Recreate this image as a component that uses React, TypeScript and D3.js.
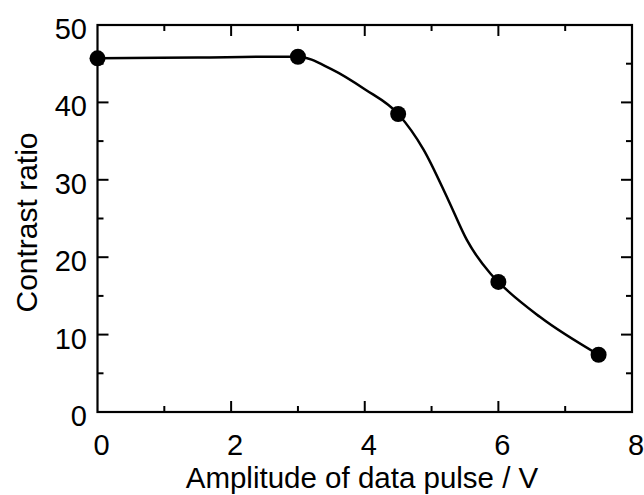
import React from "react";
import * as d3 from "d3";

const pointX = [0, 3, 4.5, 6, 7.5];
const pointY = [45.7, 45.9, 38.5, 16.8, 7.4];

// hand-drawn guide curve
const curveX = [0, 1.5, 2.7, 3, 3.5, 4.0, 4.5, 4.88, 5.25, 5.53, 5.88, 6, 6.62, 7.5];
const curveY = [45.7, 45.8, 45.9, 45.9, 44.3, 41.7, 38.5, 33.9, 27.4, 22.2, 17.9, 16.8, 12.3, 7.4];

const xTickLabels = [0, 2, 4, 6, 8];
const yTickLabels = [0, 10, 20, 30, 40, 50];
const xMinorTicks = [1, 3, 5, 7];
const yMinorTicks = [5, 15, 25, 35, 45];

const W = 644, H = 495;
const FONT = "'Liberation Sans', Arial, Helvetica, sans-serif";

export default function App() {
  const x = d3.scaleLinear().domain([0, 8]).range([97.5, 632]);
  const y = d3.scaleLinear().domain([0, 50]).range([412, 25]);
  const line = d3.line<[number, number]>()
    .x(d => x(d[0])).y(d => y(d[1]))
    .curve(d3.curveMonotoneX);
  const curvePts: [number, number][] = curveX.map((v, i) => [v, curveY[i]]);
  const major = 11, minor = 6;
  const [x0, x1] = x.range();
  const [y0, y1] = y.range();
  return (
    <svg width={W} height={H} style={{ position: "absolute", left: 0, top: 0, background: "#fff" }}>
      <rect x={0} y={0} width={W} height={H} fill="#fff" />
      <rect x={x0} y={y1} width={x1 - x0} height={y0 - y1} fill="none" stroke="#000" strokeWidth={2.2} />
      {xTickLabels.slice(1, -1).map(t => (
        <g key={"xt" + t}>
          <line x1={x(t)} x2={x(t)} y1={y0} y2={y0 - major} stroke="#000" strokeWidth={2} />
          <line x1={x(t)} x2={x(t)} y1={y1} y2={y1 + major} stroke="#000" strokeWidth={2} />
        </g>
      ))}
      {xMinorTicks.map(t => (
        <g key={"xm" + t}>
          <line x1={x(t)} x2={x(t)} y1={y0} y2={y0 - minor} stroke="#000" strokeWidth={2} />
          <line x1={x(t)} x2={x(t)} y1={y1} y2={y1 + minor} stroke="#000" strokeWidth={2} />
        </g>
      ))}
      {yTickLabels.slice(1, -1).map(t => (
        <g key={"yt" + t}>
          <line x1={x0} x2={x0 + major} y1={y(t)} y2={y(t)} stroke="#000" strokeWidth={2} />
          <line x1={x1} x2={x1 - major} y1={y(t)} y2={y(t)} stroke="#000" strokeWidth={2} />
        </g>
      ))}
      {yMinorTicks.map(t => (
        <g key={"ym" + t}>
          <line x1={x0} x2={x0 + minor} y1={y(t)} y2={y(t)} stroke="#000" strokeWidth={2} />
          <line x1={x1} x2={x1 - minor} y1={y(t)} y2={y(t)} stroke="#000" strokeWidth={2} />
        </g>
      ))}
      {xTickLabels.map(t => (
        <text key={"xl" + t} x={x(t) + 4} y={455} textAnchor="middle" fontFamily={FONT} fontSize={29} fill="#000">{t}</text>
      ))}
      {yTickLabels.map(t => (
        <text key={"yl" + t} x={87} y={y(t) + 14} textAnchor="end" fontFamily={FONT} fontSize={29} fill="#000">{t}</text>
      ))}
      <text x={362} y={488} textAnchor="middle" fontFamily={FONT} fontSize={29.5} fill="#000">Amplitude of data pulse / V</text>
      <text transform={`translate(37,222.5) rotate(-90)`} textAnchor="middle" fontFamily={FONT} fontSize={30} fill="#000">Contrast ratio</text>
      <path d={line(curvePts) || ""} fill="none" stroke="#000" strokeWidth={2.5} />
      {pointX.map((v, i) => (
        <circle key={"p" + i} cx={x(v)} cy={y(pointY[i])} r={8} fill="#000" />
      ))}
    </svg>
  );
}
